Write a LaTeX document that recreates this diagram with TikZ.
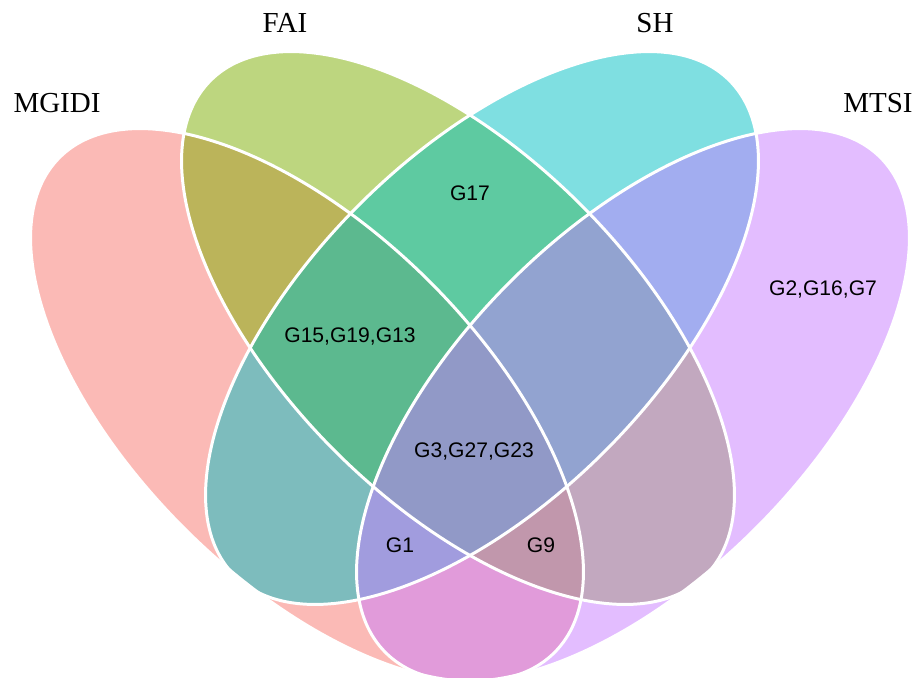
\documentclass[tikz,border=0pt]{standalone}
\usepackage{fontspec}
\setmainfont{Liberation Serif}
\newfontfamily\arialfont{Liberation Sans}
\definecolor{setA}{HTML}{F8766D}
\definecolor{setB}{HTML}{7CAE00}
\definecolor{setC}{HTML}{00BFC4}
\definecolor{setD}{HTML}{C77CFF}
\tikzset{
  setname/.style={font=\fontsize{16.5}{18}\selectfont},
  count/.style={font=\arialfont\fontsize{12}{14}\selectfont}
}

\begin{document}
\begin{tikzpicture}[x=0.02cm,y=-0.02cm]
  \path[use as bounding box] (0,0) rectangle (917,677);
  \coordinate (mgidi) at (307,405);
  \coordinate (fai) at (458,328);
  \coordinate (sh) at (482,328);
  \coordinate (mtsi) at (633,405);

  \foreach \s/\col/\r in {mgidi/setA/-45,fai/setB/-45,sh/setC/45,mtsi/setD/45}
    \fill[\col,fill opacity=0.5] (\s) ellipse [x radius=350,y radius=174,rotate=\r];
  \foreach \s/\r in {mgidi/-45,fai/-45,sh/45,mtsi/45}
    \draw[white,line width=1.7pt] (\s) ellipse [x radius=350,y radius=174,rotate=\r];

  \node[setname] (lmgidi) at (57,103) {MGIDI};
  \node[setname] (lfai) at (285,23) {FAI};
  \node[setname] (lsh) at (655,23) {SH};
  \node[setname] (lmtsi) at (878,103) {MTSI};

  \node[count] (g17) at (470,193) {G17};
  \node[count] (g15) at (350,336) {G15,G19,G13};
  \node[count] (g3) at (474,451) {G3,G27,G23};
  \node[count] (g1) at (400,545) {G1};
  \node[count] (g9) at (541,545) {G9};
  \node[count] (g2) at (823,289) {G2,G16,G7};
\end{tikzpicture}
\end{document}
